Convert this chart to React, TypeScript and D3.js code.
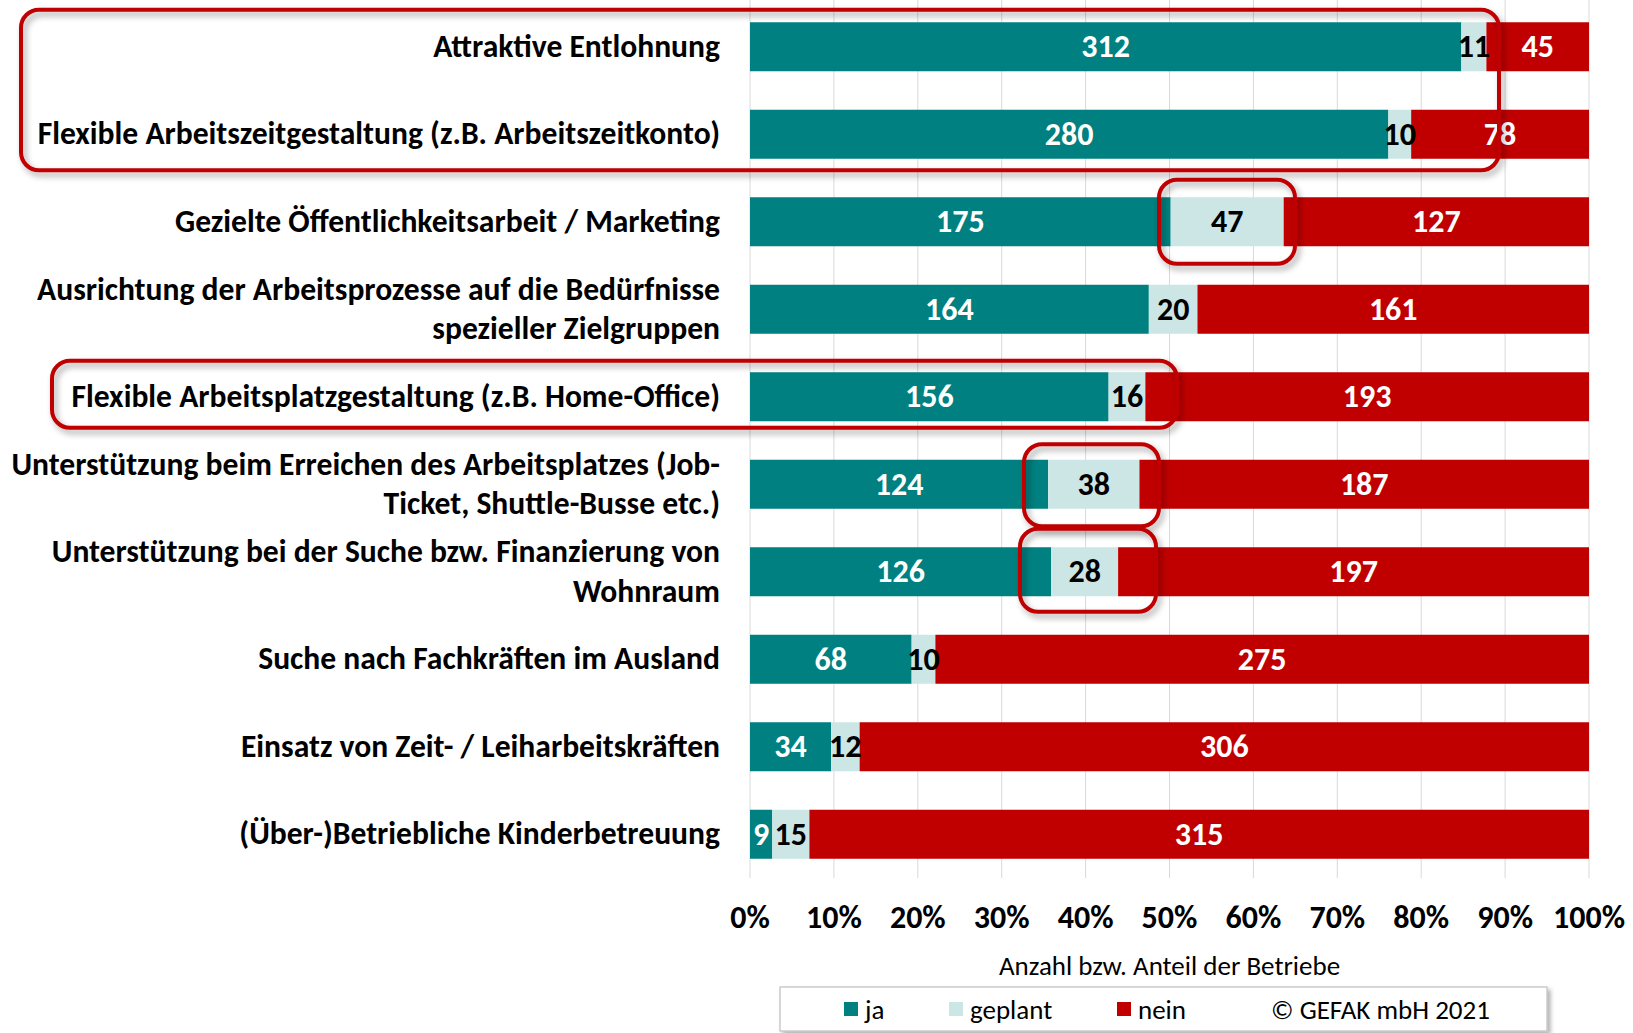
import React from "react";
import * as d3 from "d3";

const categories = [
  "Attraktive Entlohnung",
  "Flexible Arbeitszeitgestaltung (z.B. Arbeitszeitkonto)",
  "Gezielte Öffentlichkeitsarbeit / Marketing",
  "Ausrichtung der Arbeitsprozesse auf die Bedürfnisse\nspezieller Zielgruppen",
  "Flexible Arbeitsplatzgestaltung (z.B. Home-Office)",
  "Unterstützung beim Erreichen des Arbeitsplatzes (Job-\nTicket, Shuttle-Busse etc.)",
  "Unterstützung bei der Suche bzw. Finanzierung von\nWohnraum",
  "Suche nach Fachkräften im Ausland",
  "Einsatz von Zeit- / Leiharbeitskräften",
  "(Über-)Betriebliche Kinderbetreuung",
];
const ja = [312, 280, 175, 164, 156, 124, 126, 68, 34, 9];
const geplant = [11, 10, 47, 20, 16, 38, 28, 10, 12, 15];
const nein = [45, 78, 127, 161, 193, 187, 197, 275, 306, 315];
const seriesKeys = ["ja", "geplant", "nein"];
const seriesNames = ["ja", "geplant", "nein"];
const ticks = [0, 0.1, 0.2, 0.3, 0.4, 0.5, 0.6, 0.7, 0.8, 0.9, 1];
const axisTitle = "Anzahl bzw. Anteil der Betriebe";
const copyright = "© GEFAK mbH 2021";

const colors: Record<string, string> = { ja: "#008080", geplant: "#CCE6E6", nein: "#C00000" };
const labelColors: Record<string, string> = { ja: "#ffffff", geplant: "#000000", nein: "#ffffff" };

// highlight boxes (annotation layout)
const highlights = [
  { r0: 0, r1: 1, x0: 21, x1: 1499, padT: 37, padB: 36 },
  { r0: 2, r1: 2, x0: 1159, x1: 1295, padT: 42, padB: 42 },
  { r0: 4, r1: 4, x0: 52, x1: 1177, padT: 36, padB: 31 },
  { r0: 5, r1: 5, x0: 1024, x1: 1159, padT: 40, padB: 42 },
  { r0: 6, r1: 6, x0: 1020, x1: 1156, padT: 43, padB: 40 },
];

const W = 1633;
const H = 1033;
const FONT = "Carlito, 'Liberation Sans Narrow', 'DejaVu Sans Condensed', 'Open Sans', sans-serif";

export default function App() {
  const rows = categories.map((c, i) => ({ cat: c, ja: ja[i], geplant: geplant[i], nein: nein[i] }));
  const stacked = d3.stack<any>().keys(seriesKeys).offset(d3.stackOffsetExpand)(rows);

  const x = d3.scaleLinear().domain([0, 1]).range([750, 1589]);
  const y = d3.scaleBand<string>().domain(categories).range([3, 878]).paddingInner(0.44).paddingOuter(0.22);
  const bw = y.bandwidth();

  return (
    <svg width={W} height={H} style={{ position: "absolute", left: 0, top: 0, display: "block", background: "#fff" }} fontFamily={FONT}>
      <defs>
        <filter id="sh" x="-5%" y="-20%" width="115%" height="150%">
          <feDropShadow dx="3" dy="4" stdDeviation="3" floodColor="#000" floodOpacity="0.35" />
        </filter>
        <filter id="sh2" x="-5%" y="-20%" width="115%" height="150%">
          <feDropShadow dx="3" dy="3" stdDeviation="2" floodColor="#000" floodOpacity="0.3" />
        </filter>
      </defs>
      {/* gridlines */}
      {ticks.map((t) => (
        <line key={t} x1={x(t)} x2={x(t)} y1={0} y2={878} stroke="#d9d9d9" strokeWidth={1} />
      ))}
      {/* bars */}
      {stacked.map((s) => (
        <g key={s.key}>
          {s.map((d, i) => (
            <rect key={i} x={x(d[0])} y={y(categories[i])!} width={x(d[1]) - x(d[0])} height={bw} fill={colors[s.key]} />
          ))}
        </g>
      ))}
      {/* value labels */}
      {stacked.map((s) => (
        <g key={"l" + s.key}>
          {s.map((d, i) => (
            <text key={i} x={(x(d[0]) + x(d[1])) / 2} y={y(categories[i])! + bw / 2} textAnchor="middle" dominantBaseline="central"
              fontSize={32} fontWeight="bold" fill={labelColors[s.key]}>
              {(d.data as any)[s.key]}
            </text>
          ))}
        </g>
      ))}
      {/* category labels */}
      {categories.map((c, i) => {
        const lines = c.split("\n");
        const cy = y(c)! + bw / 2;
        return (
          <text key={c} x={720} textAnchor="end" fontSize={31.6} fontWeight="bold" fill="#000">
            {lines.map((l, li) => (
              <tspan key={li} x={720} y={cy + (li - (lines.length - 1) / 2) * 39.5 - 1} dominantBaseline="central">{l}</tspan>
            ))}
          </text>
        );
      })}
      {/* tick labels */}
      {ticks.map((t) => (
        <text key={"t" + t} x={x(t)} y={917} textAnchor="middle" dominantBaseline="central" fontSize={32} fontWeight="bold">
          {d3.format(".0%")(t)}
        </text>
      ))}
      <text x={x(0.5)} y={965} textAnchor="middle" dominantBaseline="central" fontSize={27}>{axisTitle}</text>
      {/* legend */}
      <rect x={780} y={987} width={767} height={44} fill="#fff" stroke="#bfbfbf" strokeWidth={1.2} filter="url(#sh2)" />
      {seriesKeys.map((k, i) => {
        const lx = [844, 949, 1117][i];
        return (
          <g key={"lg" + k}>
            <rect x={lx} y={1002} width={14} height={14} fill={colors[k]} />
            <text x={lx + 21} y={1009} dominantBaseline="central" fontSize={27}>{seriesNames[i]}</text>
          </g>
        );
      })}
      <text x={1271} y={1009} dominantBaseline="central" fontSize={27}>{copyright}</text>
      {/* highlight boxes */}
      {highlights.map((h, i) => {
        const top = y(categories[h.r0])! + bw / 2 - h.padT;
        const bot = y(categories[h.r1])! + bw / 2 + h.padB;
        return (
          <rect key={"h" + i} x={h.x0} y={top} width={h.x1 - h.x0} height={bot - top} rx={18} ry={18}
            fill="none" stroke="#C00000" strokeWidth={4} filter="url(#sh)" />
        );
      })}
    </svg>
  );
}
